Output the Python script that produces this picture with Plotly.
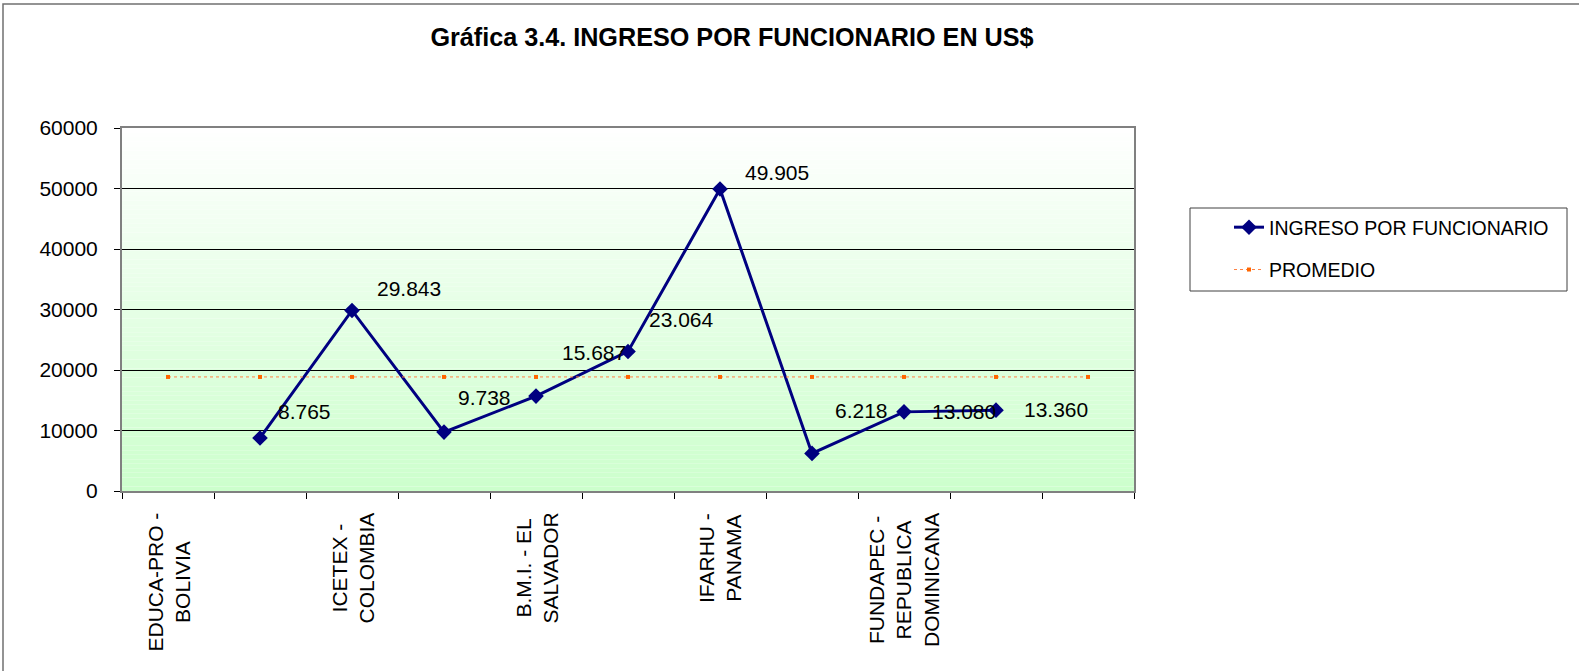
import plotly.graph_objects as go

# ---------------- data ----------------
categories = ["EDUCA-PRO -<br>BOLIVIA", "", "ICETEX -<br>COLOMBIA", "", "B.M.I. - EL<br>SALVADOR", "",
              "IFARHU -<br>PANAMA", "", "FUNDAPEC -<br>REPUBLICA<br>DOMINICANA", "", ""]
ingreso = [None, 8765, 29843, 9738, 15687, 23064, 49905, 6218, 13080, 13360, None]
promedio = [18851, 18851, 18851, 18851, 18851, 18851, 18851, 18851, 18851, 18851, 18851]
y_ticks = [0, 10000, 20000, 30000, 40000, 50000, 60000]

# ---------------- styles ----------------
W, H = 1579, 671
PL, PR, PT, PB = 122, 1134, 128, 491  # plot area edges in figure px
ML, MR, MT, MB = PL, W - PR, PT, H - PB
PW, PH = PR - PL, PB - PT
FONT = "Liberation Sans, Arial, sans-serif"
FS = 21
FS_LEG = 19.5
# label offsets (px right, px up) for the data labels, in order of the non-empty points
label_shift = [(44, 26), (57, 22), (40, 35), (58, 44), (53, 32), (57, 17), (49, 43), (60, 0), (60, 1)]


def px_x(px):  # figure px -> paper x
    return (px - PL) / PW


def px_y(py):  # figure px -> paper y
    return (PB - py) / PH


xs = list(range(len(categories)))

fig = go.Figure()
fig.add_trace(go.Scatter(
    x=xs, y=ingreso, mode="lines+markers", name="INGRESO POR FUNCIONARIO",
    line=dict(color="#000080", width=3), marker=dict(symbol="diamond", size=12, color="#000080"),
    legendgroup="a", hoverinfo="skip"))
fig.add_trace(go.Scatter(
    x=xs, y=promedio, mode="lines+markers", name="PROMEDIO",
    line=dict(color="#FF8040", width=1, dash="dot"), marker=dict(symbol="square", size=4, color="#FF6600"),
    legendgroup="b", hoverinfo="skip"))

annotations = []
k = 0
for xi, v in zip(xs, ingreso):
    if v is None:
        continue
    dx, dy = label_shift[k]
    k += 1
    annotations.append(dict(x=xi, y=v, xref="x", yref="y", text=f"{v:,}".replace(",", "."),
                            showarrow=False, xshift=dx, yshift=dy, xanchor="center", yanchor="middle",
                            font=dict(family=FONT, size=FS, color="black")))
for xi, lab in zip(xs, categories):
    if not lab:
        continue
    annotations.append(dict(x=xi, y=-(20 / PH), xref="x", yref="paper", text=lab, showarrow=False,
                            textangle=-90, align="center", xanchor="center", yanchor="top",
                            font=dict(family=FONT, size=FS, color="black")))

# background gradient (white top -> light green bottom)
shapes = []
N = 80
top = (255, 255, 255)
bot = (204, 255, 204)
for i in range(N):
    t = (i + 0.5) / N
    c = tuple(round(bot[j] + (top[j] - bot[j]) * t) for j in range(3))
    shapes.append(dict(type="rect", xref="x domain", yref="y domain", x0=0, x1=1, y0=i / N, y1=(i + 1) / N,
                       fillcolor=f"rgb{c}", line=dict(width=0), layer="below"))
# outer chart border
shapes.append(dict(type="rect", xref="paper", yref="paper",
                   x0=px_x(3), x1=px_x(W + 30), y0=px_y(H + 30), y1=px_y(4),
                   line=dict(color="#707070", width=1.5), fillcolor="rgba(0,0,0,0)", layer="above"))
# legend box
shapes.append(dict(type="rect", xref="paper", yref="paper",
                   x0=px_x(1190), x1=px_x(1567), y0=px_y(291), y1=px_y(208),
                   line=dict(color="#404040", width=1), fillcolor="white", layer="below"))

fig.update_layout(
    width=W, height=H, margin=dict(l=ML, r=MR, t=MT, b=MB, autoexpand=False),
    paper_bgcolor="white", plot_bgcolor="rgba(0,0,0,0)",
    font=dict(family=FONT, size=FS, color="black"),
    title=dict(text="<b>Gráfica 3.4. INGRESO POR FUNCIONARIO EN US$</b>", xref="container", yref="container",
               x=732 / W, y=1 - 37 / H, xanchor="center", yanchor="middle",
               font=dict(family=FONT, size=25.2, color="black")),
    showlegend=True,
    legend=dict(xref="container", yref="container", x=1229 / W, y=1 - 208 / H,
                xanchor="left", yanchor="top",
                borderwidth=0, bgcolor="rgba(0,0,0,0)", tracegroupgap=14,
                traceorder="grouped", font=dict(family=FONT, size=FS_LEG, color="black")),
    annotations=annotations, shapes=shapes,
)
fig.update_xaxes(range=[-0.5, len(categories) - 0.5], tickmode="array",
                 tickvals=[i - 0.5 for i in range(len(categories) + 1)], showticklabels=False,
                 ticks="outside", ticklen=6, tickcolor="black", showgrid=False, zeroline=False,
                 showline=True, linecolor="#808080", linewidth=2, mirror=True, fixedrange=True)
fig.update_yaxes(range=[0, 60000], tickmode="array", tickvals=y_ticks, ticktext=[str(v) for v in y_ticks],
                 ticks="outside", ticklen=6, tickcolor="black", showgrid=True, gridcolor="black", gridwidth=1,
                 zeroline=False, showline=True, linecolor="#808080", linewidth=2, mirror=True,
                 ticklabelstandoff=12, fixedrange=True)

# remove the browser's default 8px page margin so the figure sits at the window origin
fig.write_html("out.html", config={"displayModeBar": False},
               post_script="document.body.style.margin='0px';")
